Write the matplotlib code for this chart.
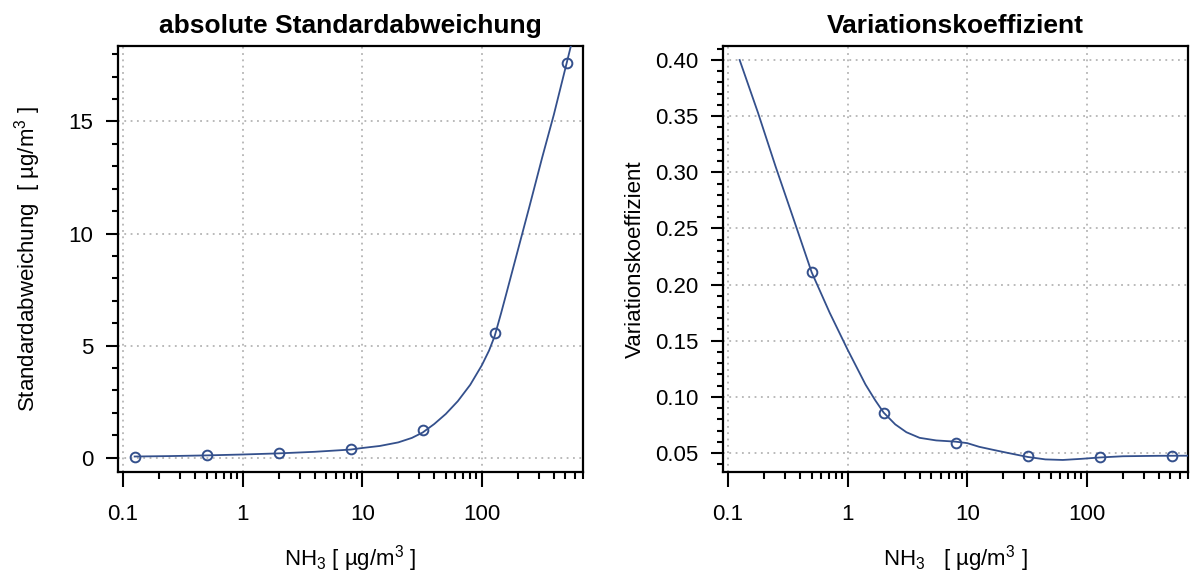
import matplotlib
matplotlib.use("Agg")
import matplotlib.pyplot as plt
from matplotlib.ticker import FixedLocator, LogLocator, MultipleLocator, FixedFormatter, FormatStrFormatter

plt.rcParams['font.family'] = ['Liberation Sans', 'DejaVu Sans']
plt.rcParams['mathtext.fontset'] = 'custom'
plt.rcParams['mathtext.rm'] = 'Liberation Sans'
plt.rcParams['mathtext.it'] = 'Liberation Sans:italic'

# Messpunkte (NH3-Konzentration in ug/m3)
conc = [0.125, 0.5, 2, 8, 32, 128, 512]
sd_points = [0.05, 0.10, 0.19, 0.37, 1.25, 5.58, 17.6]
cv_conc = [0.5, 2, 8, 32, 128, 512]
cv_points = [0.211, 0.086, 0.059, 0.0476, 0.0467, 0.0476]

# geglaettete Kurven
sd_curve_x = [0.125, 0.25, 0.5, 1, 2, 4, 8, 10, 14, 20, 26, 32, 40, 50, 63, 80, 100, 115, 128,
              145, 160, 200, 250, 320, 400, 512, 620]
sd_curve_y = [0.05, 0.07, 0.10, 0.14, 0.19, 0.26, 0.36, 0.43, 0.52, 0.68, 0.88, 1.12, 1.50, 1.95,
              2.52, 3.25, 4.12, 4.78, 5.42, 6.45, 7.3, 9.25, 11.2, 13.4, 15.3, 17.6, 19.4]
cv_curve_x = [0.125, 0.178, 0.25, 0.354, 0.5, 0.707, 1.0, 1.41, 1.7, 2, 2.5, 3.1, 4.0, 5.5, 8, 10,
              12.6, 17, 22, 32, 45, 63, 90, 128, 200, 400, 710]
cv_curve_y = [0.400, 0.353, 0.305, 0.258, 0.211, 0.175, 0.142, 0.111, 0.097, 0.086, 0.0755, 0.0685,
              0.0635, 0.0612, 0.0601, 0.0588, 0.0555, 0.0525, 0.050, 0.0465, 0.0443, 0.0438, 0.0448,
              0.0460, 0.0471, 0.0475, 0.0476]

farbe = '#34508c'
xticks = [0.1, 1, 10, 100]
xticklabels = ['0.1', '1', '10', '100']

fig = plt.figure(figsize=(11.9, 5.76), dpi=100)
ax1 = fig.add_axes([0.0992, 0.1806, 0.3908, 0.7396])
ax2 = fig.add_axes([0.6076, 0.1806, 0.3908, 0.7396])


def achsen(ax):
    ax.set_xscale('log')
    ax.set_xlim(0.0908, 703)
    ax.xaxis.set_major_locator(FixedLocator(xticks))
    ax.xaxis.set_major_formatter(FixedFormatter(xticklabels))
    ax.xaxis.set_minor_locator(LogLocator(base=10, subs=range(2, 10), numticks=20))
    ax.xaxis.set_minor_formatter(FixedFormatter([]))
    ax.grid(True, which='major', color='#b4b4b4', linestyle=(0, (1, 2.5)), linewidth=1.3)
    for s in ax.spines.values():
        s.set_linewidth(1.6)
    ax.tick_params(axis='x', which='major', length=11, width=1.5, pad=12, labelsize=16, direction='out')
    ax.tick_params(axis='x', which='minor', length=5, width=1.5, direction='out')
    ax.tick_params(axis='y', which='major', length=9, width=1.5, pad=9, labelsize=16, direction='out')
    ax.tick_params(axis='y', which='minor', length=4, width=1.5, direction='out')


# linkes Diagramm
achsen(ax1)
ax1.plot(sd_curve_x, sd_curve_y, color=farbe, lw=1.3, zorder=3)
ax1.plot(conc, sd_points, 'o', mfc='none', mec=farbe, mew=1.4, ms=7, zorder=4)
ax1.set_ylim(-0.64, 18.37)
ax1.yaxis.set_major_locator(FixedLocator([0, 5, 10, 15]))
ax1.yaxis.set_minor_locator(MultipleLocator(1))
ax1.set_title('absolute Standardabweichung', fontsize=19, fontweight='bold', pad=9)
ax1.set_ylabel('Standardabweichung  [ µg/m$^3$ ]', fontsize=16, labelpad=18)
ax1.set_xlabel('NH$_3$ [ µg/m$^3$ ]', fontsize=16, labelpad=13)

# rechtes Diagramm
achsen(ax2)
ax2.plot(cv_curve_x, cv_curve_y, color=farbe, lw=1.3, zorder=3)
ax2.plot(cv_conc, cv_points, 'o', mfc='none', mec=farbe, mew=1.4, ms=7, zorder=4)
ax2.set_ylim(0.0331, 0.4125)
ax2.yaxis.set_major_locator(MultipleLocator(0.05))
ax2.yaxis.set_major_formatter(FormatStrFormatter('%.2f'))
ax2.yaxis.set_minor_locator(MultipleLocator(0.01))
ax2.set_title('Variationskoeffizient', fontsize=19, fontweight='bold', pad=9)
ax2.set_ylabel('Variationskoeffizient', fontsize=16, labelpad=6)
ax2.set_xlabel('NH$_3$   [ µg/m$^3$ ]', fontsize=16, labelpad=13)

fig.savefig('out.png', dpi=100)
